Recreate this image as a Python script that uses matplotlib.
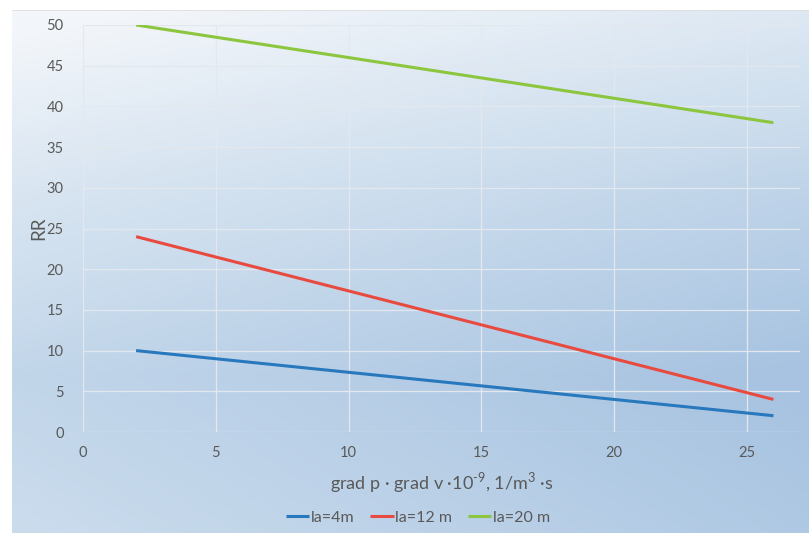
import numpy as np
import matplotlib
matplotlib.use("Agg")
import matplotlib.pyplot as plt
from matplotlib.colors import LinearSegmentedColormap

# Data
x_vals = [2, 26]
la4 = [10, 2]
la12 = [24, 4]
la20 = [50, 38]
series_labels = ["la=4m", "la=12 m", "la=20 m"]
colors = ["#2878bd", "#e84a3f", "#8cc63f"]
x_ticks = [0, 5, 10, 15, 20, 25]
y_ticks = [0, 5, 10, 15, 20, 25, 30, 35, 40, 45, 50]

plt.rcParams['font.family'] = ['Lato', 'DejaVu Sans']
W, H = 809, 533
fig = plt.figure(figsize=(W / 100, H / 100), dpi=100)
fig.patch.set_facecolor("white")

# background gradient for chart area
bg = fig.add_axes([12 / W, 0, 1 - 12 / W, (H - 10) / H])
bg.set_axis_off()
ny, nx = 200, 300
yy, xx = np.mgrid[0:1:ny * 1j, 0:1:nx * 1j]
vprof = np.interp(yy, [0, 0.35, 0.7, 1.0], [0.0, 0.55, 0.95, 0.8])
t = np.clip(0.75 * vprof + 0.35 * xx - 0.05, 0, 1)
cmap = LinearSegmentedColormap.from_list("bgc", ["#f3f6fa", "#cfdfee", "#a7c3e1"])
bg.imshow(t, cmap=cmap, aspect="auto", extent=[0, 1, 0, 1], origin="upper",
          vmin=0, vmax=1, interpolation="bilinear")
bg.set_xlim(0, 1)
bg.set_ylim(0, 1)
bg.axhline(1, color="#dcdcdc", lw=1.2)

ax = fig.add_axes([83 / W, 1 - 432 / H, (800 - 83) / W, (432 - 25) / H])
ax.patch.set_alpha(0)
for s in ax.spines.values():
    s.set_visible(False)

for ys, lab, c in zip([la4, la12, la20], series_labels, colors):
    ax.plot(x_vals, ys, color=c, lw=2.2, label=lab, solid_capstyle="butt")

ax.set_xlim(0, 27)
ax.set_ylim(0, 50)
ax.set_xticks(x_ticks)
ax.set_yticks(y_ticks)
ax.grid(True, color="#e3e8ef", lw=0.9)
ax.set_axisbelow(True)
ax.tick_params(length=0, labelsize=10.5, colors="#595959", pad=10)
ax.tick_params(axis="y", pad=14)

ax.set_xlabel("grad p · grad v ·10$^{\\mathregular{\u20109}}$, 1/m$^{\\mathregular{3}}$ ·s",
              fontsize=13, color="#595959", labelpad=7)
ax.set_ylabel("RR", fontsize=13.5, color="#595959")
ax.yaxis.set_label_coords(-36 / 717, 0.5)

leg = fig.legend(loc="center", bbox_to_anchor=(418 / W, 1 - 518 / H), ncol=3,
                 frameon=False, fontsize=11.5, handlelength=1.45, columnspacing=1.0,
                 handletextpad=0.1, labelcolor="#595959")

fig.savefig("out.png", dpi=100)
